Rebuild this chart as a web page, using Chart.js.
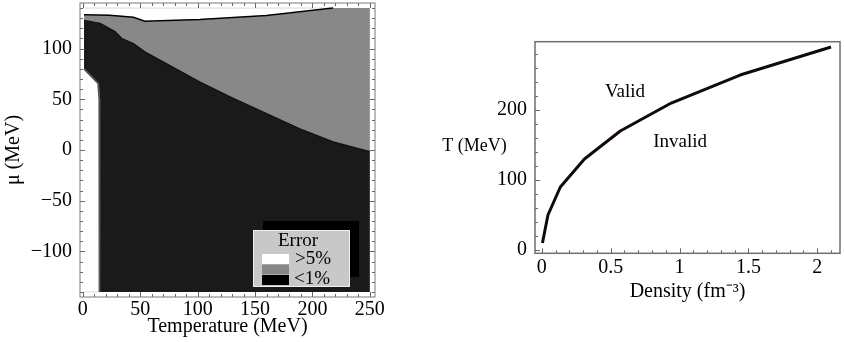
<!DOCTYPE html>
<html><head><meta charset="utf-8">
<script src="https://cdn.jsdelivr.net/npm/chart.js@4/dist/chart.umd.min.js"></script>
<style>
html,body{margin:0;padding:0;background:#fff;width:844px;height:342px;overflow:hidden}
#cl{position:absolute;left:0;top:0}
#cr{position:absolute;left:395px;top:0}
</style></head><body>
<canvas id="cl" width="395" height="342"></canvas>
<canvas id="cr" width="449" height="342"></canvas>
<script>
// ---------- Left panel: error regions in the (Temperature, mu) plane ----------
const topBoundaryT  = [1, 23, 44, 54, 102, 160, 218];
const topBoundaryMu = [133.5, 133, 131, 127, 128.8, 132.7, 140];
const midBoundaryT  = [1, 15, 28, 34, 44, 54, 73, 102, 131, 160, 189, 218, 250];
const midBoundaryMu = [128, 125, 117, 110, 105, 97, 85, 67, 51, 36, 21, 8, -1.5];
const leftEdgeT  = [1, 13.3, 14.3, 14.5];
const leftEdgeMu = [80, 65.6, 50, -140];
const tempMin = 1, tempMax = 250;
const muMin = -140, muMax = 140;
const xTicksLeft = [0, 50, 100, 150, 200, 250];
const yTicksLeft = [-100, -50, 0, 50, 100];
const legendTitle = 'Error';
const legendLabels = ['>5%', '', '<1%'];
const legendColors = ['#ffffff', '#888888', '#000000'];

// ---------- Right panel: validity boundary ----------
const density      = [0.005, 0.045, 0.135, 0.31, 0.57, 0.94, 1.44, 2.1];
const temperatureT = [10, 50, 90, 130, 170, 210, 250, 290];
const xTicksRight = [0, 0.5, 1, 1.5, 2];
const yTicksRight = [0, 100, 200];
const labelValid   = {text: 'Valid',   x: 0.604, y: 226};
const labelInvalid = {text: 'Invalid', x: 1.004, y: 154};

const FONT = "'Liberation Serif', 'Times New Roman', serif";
const pts = (xs, ys) => xs.map((x, i) => ({x: x, y: ys[i]}));
const minus = v => String(v).replace('-', '\u2212');

// polygons built from the boundary arrays
const topPts = pts(topBoundaryT, topBoundaryMu);
const midPts = pts(midBoundaryT, midBoundaryMu);
const edgePts = pts(leftEdgeT, leftEdgeMu);
const grayPoly = [...topPts, {x: tempMax, y: muMax}, ...midPts.slice().reverse()];
const darkPoly = [...midPts, {x: tempMax, y: muMin}, ...edgePts.slice().reverse()];
const whiteTopPoly = [...topPts, {x: tempMin, y: muMax}];
const whiteLeftPoly = [...edgePts, {x: tempMin, y: muMin}];

function frameTicksPlugin(id) {
  return {
    id: id,
    afterDatasetsDraw(chart, args, o) {
      const {ctx, chartArea: a} = chart;
      const xs = chart.scales.x, ys = chart.scales.y;
      ctx.save();
      ctx.strokeStyle = o.tickColor; ctx.lineWidth = 1;
      ctx.beginPath();
      const isMajor = (v, step) => Math.abs(v / step - Math.round(v / step)) < 1e-6;
      const eachTick = (sc, minor, major, cb) => {
        const k0 = Math.ceil(sc.min / minor - 1e-9), k1 = Math.floor(sc.max / minor + 1e-9);
        for (let k = k0; k <= k1; k++) {
          const v = k * minor;
          cb(sc.getPixelForValue(v), isMajor(v, major) ? o.majorLen : o.minorLen);
        }
      };
      eachTick(xs, o.xMinor, o.xMajor, (p, l) => {
        p = Math.round(p) + 0.5;
        ctx.moveTo(p, a.bottom); ctx.lineTo(p, a.bottom - l);
        if (o.allSides) { ctx.moveTo(p, a.top); ctx.lineTo(p, a.top + l); }
      });
      eachTick(ys, o.yMinor, o.yMajor, (p, l) => {
        p = Math.round(p) + 0.5;
        ctx.moveTo(a.left, p); ctx.lineTo(a.left + l, p);
        if (o.allSides) { ctx.moveTo(a.right, p); ctx.lineTo(a.right - l, p); }
      });
      ctx.stroke();
      ctx.strokeStyle = o.frameColor; ctx.lineWidth = o.frameWidth;
      ctx.strokeRect(a.left, a.top, a.right - a.left, a.bottom - a.top);
      ctx.restore();
    }
  };
}

const legendPlugin = {
  id: 'errLegend',
  afterDraw(chart) {
    const ctx = chart.ctx;
    ctx.save();
    ctx.fillStyle = '#000';
    ctx.fillRect(263, 221, 96, 56);
    ctx.fillStyle = '#c8c8c8';
    ctx.fillRect(253, 230, 97, 57);
    ctx.strokeStyle = '#efefef'; ctx.lineWidth = 1;
    ctx.strokeRect(253.5, 230.5, 96, 56);
    ctx.font = '19px ' + FONT;
    ctx.fillStyle = '#000';
    ctx.textAlign = 'center'; ctx.textBaseline = 'middle';
    ctx.fillText(legendTitle, 298, 241);
    const sy = [254, 264.5, 275];
    legendColors.forEach((c, i) => {
      ctx.fillStyle = c;
      ctx.fillRect(262, sy[i], 27, 10);
    });
    ctx.fillStyle = '#000'; ctx.textAlign = 'left';
    ctx.fillText(legendLabels[0], 295, 259);
    ctx.fillText(legendLabels[2], 294, 279);
    ctx.restore();
  }
};

const polyDs = (data, color, border, bw, order) => ({
  data: data, fill: 'shape', backgroundColor: color, borderColor: border,
  borderWidth: bw, pointRadius: 0, tension: 0, order: order
});
const lineDs = (data, color, bw, order) => ({
  data: data, fill: false, borderColor: color, borderWidth: bw,
  pointRadius: 0, tension: 0, order: order
});
const noPadX = s => { s.paddingLeft = 0; s.paddingRight = 0; };
const noPadY = s => { s.paddingTop = 0; s.paddingBottom = 0; };

new Chart(document.getElementById('cl'), {
  type: 'line',
  data: {datasets: [
    lineDs(topPts, '#000', 1.5, 0),
    lineDs(midPts, '#0a0a0a', 1.2, 0),
    lineDs(edgePts, '#555', 1.8, 0),
    polyDs(whiteTopPoly, '#ffffff', '#dadada', 1, 5),
    polyDs(whiteLeftPoly, '#ffffff', '#dadada', 1, 5),
    polyDs(grayPoly, '#888888', 'rgba(0,0,0,0)', 0, 6),
    polyDs(darkPoly, '#1a1a1a', 'rgba(0,0,0,0)', 0, 6)
  ]},
  options: {
    responsive: false, animation: false, events: [],
    layout: {padding: {top: 3, right: 20, left: 0, bottom: 0}},
    plugins: {
      legend: {display: false}, tooltip: {enabled: false},
      ftl: {tickColor: '#666', frameColor: '#7a7a7a', frameWidth: 1, allSides: true,
            xMinor: 10, xMajor: 50, yMinor: 10, yMajor: 50, majorLen: 5, minorLen: 3}
    },
    scales: {
      x: {type: 'linear', min: -2.5, max: 254.5,
          afterBuildTicks: s => { s.ticks = xTicksLeft.map(v => ({value: v})); },
          afterFit: s => { s.height = 45; noPadX(s); },
          grid: {display: false, drawTicks: false}, border: {display: false},
          ticks: {padding: 1, color: '#000', font: {family: FONT, size: 20}, maxRotation: 0, autoSkip: false},
          title: {display: true, text: 'Temperature (MeV)', color: '#000', font: {family: FONT, size: 20}, padding: {top: 0, bottom: 3}}},
      y: {type: 'linear', min: -145, max: 145,
          afterBuildTicks: s => { s.ticks = yTicksLeft.map(v => ({value: v})); },
          afterFit: s => { s.width = 80; noPadY(s); },
          grid: {display: false, drawTicks: false}, border: {display: false},
          ticks: {padding: 8, color: '#000', font: {family: FONT, size: 20}, callback: v => minus(v)},
          title: {display: true, text: '\u03bc (MeV)', color: '#000', font: {family: FONT, size: 20}, padding: {top: 2, bottom: 0}}}
    }
  },
  plugins: [frameTicksPlugin('ftl'), legendPlugin]
});

const rightText = {
  id: 'rightText',
  afterDraw(chart) {
    const ctx = chart.ctx, xs = chart.scales.x, ys = chart.scales.y;
    ctx.save();
    ctx.font = '19px ' + FONT; ctx.fillStyle = '#000';
    ctx.textAlign = 'center'; ctx.textBaseline = 'middle';
    [labelValid, labelInvalid].forEach(l => ctx.fillText(l.text, xs.getPixelForValue(l.x), ys.getPixelForValue(l.y)));
    ctx.font = '18px ' + FONT;
    ctx.fillText('T (MeV)', 79.5, 146);
    ctx.restore();
  }
};

new Chart(document.getElementById('cr'), {
  type: 'line',
  data: {datasets: [{
    data: pts(density, temperatureT), fill: false, borderColor: '#120810', borderWidth: 3,
    pointRadius: 0, tension: 0, borderJoinStyle: 'round'
  }]},
  options: {
    responsive: false, animation: false, events: [],
    layout: {padding: {top: 41.7, right: 4, left: 0, bottom: 0}},
    plugins: {
      legend: {display: false}, tooltip: {enabled: false},
      ftr: {tickColor: '#666', frameColor: '#6f6f6f', frameWidth: 1.5, allSides: false,
            xMinor: 0.1, xMajor: 0.5, yMinor: 20, yMajor: 100, majorLen: 5, minorLen: 3}
    },
    scales: {
      x: {type: 'linear', min: -0.049, max: 2.165,
          afterBuildTicks: s => { s.ticks = xTicksRight.map(v => ({value: v})); },
          afterFit: s => { s.height = 88.7; noPadX(s); },
          grid: {display: false, drawTicks: false}, border: {display: false},
          ticks: {padding: 2, color: '#000', font: {family: FONT, size: 20}, maxRotation: 0, autoSkip: false, callback: v => String(v)},
          title: {display: true, text: 'Density (fm\u207B\u00B3)', color: '#000', font: {family: FONT, size: 20}, padding: {top: 0, bottom: 38}}},
      y: {type: 'linear', min: -4.7, max: 297.6,
          afterBuildTicks: s => { s.ticks = yTicksRight.map(v => ({value: v})); },
          afterFit: s => { s.width = 140; noPadY(s); },
          grid: {display: false, drawTicks: false}, border: {display: false},
          ticks: {padding: 8, color: '#000', font: {family: FONT, size: 20}}}
    }
  },
  plugins: [frameTicksPlugin('ftr'), rightText]
});
</script>
</body></html>
